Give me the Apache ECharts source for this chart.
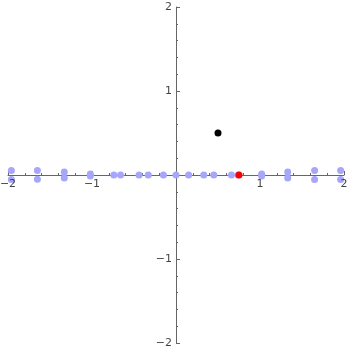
<!DOCTYPE html>
<html>
<head>
<meta charset="utf-8">
<script src="https://cdn.jsdelivr.net/npm/echarts@6/dist/echarts.min.js"></script>
<style>html,body{margin:0;padding:0;background:#fff}#c{width:350px;height:350px}</style>
</head>
<body>
<div id="c"></div>
<script>
// Light blue points (x, y)
var blueX = [-1.96, -1.96, -1.65, -1.65, -1.33, -1.33, -1.02, -1.02, -0.74, -0.66, -0.44, -0.33, -0.15, 0, 0.15, 0.33, 0.45, 0.66, 0.74, 1.02, 1.02, 1.33, 1.33, 1.65, 1.65, 1.96, 1.96];
var blueY = [0.055, -0.055, 0.055, -0.05, 0.035, -0.035, 0.012, -0.012, 0, 0, 0, 0, 0, 0, 0, 0, 0, 0, 0, 0.012, -0.012, 0.035, -0.035, 0.055, -0.055, 0.055, -0.055];
var blackPoint = [0.5, 0.5];
var redPoint = [0.75, 0];
var tickValues = [-2, -1, 1, 2];

var blueData = blueX.map(function (x, i) { return [x, blueY[i]]; });
function fmt(v) {
  if (v === 0) return '';
  return v < 0 ? '\u2212' + Math.abs(v) : String(v);
}
var chart = echarts.init(document.getElementById('c'));
var axisCommon = {
  type: 'value',
  min: -2, max: 2, interval: 1,
  axisLine: { onZero: true, lineStyle: { color: '#666', width: 1 } },
  axisTick: { show: true, inside: true, length: 4, lineStyle: { color: '#666' } },
  minorTick: { show: true, splitNumber: 5, length: 2, lineStyle: { color: '#666' } },
  splitLine: { show: false },
  axisLabel: { show: false }
};
var labelStyle = { show: true, color: '#111', fontFamily: 'DejaVu Sans', fontSize: 11 };
chart.setOption({
  animation: false,
  grid: { left: 8, top: 7, width: 336, height: 336, containLabel: false, outerBoundsMode: 'none' },
  xAxis: axisCommon,
  yAxis: Object.assign({}, axisCommon),
  series: [
    { type: 'scatter', data: blueData, symbolSize: 7, itemStyle: { color: '#a6a6fb', opacity: 1 }, z: 3 },
    { type: 'scatter', data: [blackPoint], symbolSize: 7, itemStyle: { color: '#000', opacity: 1 }, z: 4 },
    { type: 'scatter', data: [redPoint], symbolSize: 7, itemStyle: { color: '#ff0000', opacity: 1 }, z: 4 },
    { type: 'scatter', silent: true, symbolSize: 0, z: 5,
      data: tickValues.map(function (v) { return [v, 0]; }),
      label: Object.assign({}, labelStyle, { position: 'bottom', distance: 4, formatter: function (p) { return fmt(p.value[0]); } }) },
    { type: 'scatter', silent: true, symbolSize: 0, z: 5,
      data: tickValues.map(function (v) { return [0, v]; }),
      label: Object.assign({}, labelStyle, { position: 'left', distance: 4, formatter: function (p) { return fmt(p.value[1]); } }) }
  ]
});
</script>
</body>
</html>
